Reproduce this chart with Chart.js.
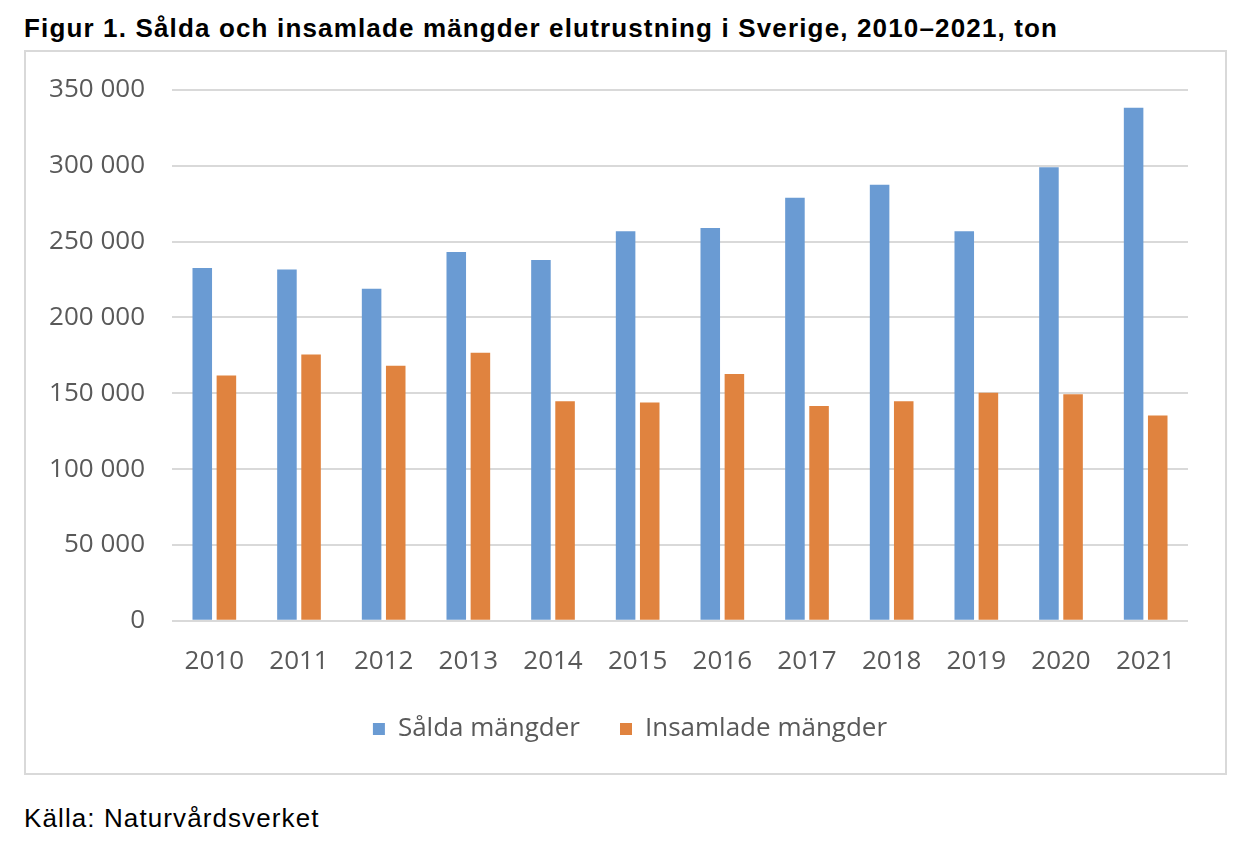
<!DOCTYPE html>
<html>
<head>
<meta charset="utf-8">
<script src="https://cdn.jsdelivr.net/npm/chart.js@4/dist/chart.umd.min.js"></script>
<style>
  body { margin: 0; background: #fff; width: 1252px; height: 856px; position: relative; font-family: "Liberation Sans", Arial, sans-serif; }
  #title { position: absolute; left: 24px; top: 13px; font-size: 26px; letter-spacing: 1.15px; font-weight: bold; color: #000; white-space: nowrap; }
  #box { position: absolute; left: 24px; top: 50px; width: 1203px; height: 725px; border: 2px solid #d9d9d9; box-sizing: border-box; }
  #source { position: absolute; left: 24px; top: 803px; font-size: 26px; letter-spacing: 1.1px; color: #000; white-space: nowrap; }
</style>
</head>
<body>
<div id="title">Figur 1. Sålda och insamlade mängder elutrustning i Sverige, 2010–2021, ton</div>
<div id="box"><canvas id="chart"></canvas></div>
<div id="source">Källa: Naturvårdsverket</div>
<script>
// Data (ton)
const years = ['2010', '2011', '2012', '2013', '2014', '2015', '2016', '2017', '2018', '2019', '2020', '2021'];
const salda = [232600, 231700, 219000, 243200, 237900, 256800, 259000, 279000, 287600, 256800, 299100, 338300];
const insamlade = [161700, 175600, 168100, 176700, 144800, 143900, 162800, 141700, 144800, 150300, 149400, 135300];
const seriesLabels = ['Sålda mängder', 'Insamlade mängder'];

const colors = {
  salda: '#6a9bd3',
  insamlade: '#e0833f',
  grid: '#d9d9d9',
  text: '#595959'
};

const fmt = v => String(v).replace(/\B(?=(\d{3})+(?!\d))/g, ' ');
const labelFont = { family: '"Open Sans", sans-serif', size: 26 };

// Move the legend so it sits centred in the frame, a bit closer to the axis
const legendShift = {
  id: 'legendShift',
  afterLayout(chart) {
    const lg = chart.legend;
    if (!lg) return;
    lg.left += 23; lg.right += 23;
    lg.top -= 18; lg.bottom -= 18;
  }
};

new Chart(document.getElementById('chart').getContext('2d'), {
  type: 'bar',
  data: {
    labels: years,
    datasets: [
      { label: seriesLabels[0], data: salda, backgroundColor: colors.salda },
      { label: seriesLabels[1], data: insamlade, backgroundColor: colors.insamlade }
    ]
  },
  options: {
    responsive: true,
    maintainAspectRatio: false,
    animation: false,
    categoryPercentage: 0.57,
    barPercentage: 0.81,
    layout: { padding: { top: 38, left: 0, right: 37, bottom: 3 } },
    scales: {
      x: {
        grid: { display: false },
        border: { display: false },
        ticks: { color: colors.text, font: labelFont, padding: 17 }
      },
      y: {
        min: 0,
        max: 350000,
        afterFit: scale => {
          scale.width = 146;
          scale.paddingTop = 0;
          scale.paddingBottom = 0;
        },
        grid: { color: colors.grid, lineWidth: 2, drawTicks: false },
        border: { display: false },
        ticks: { stepSize: 50000, color: colors.text, font: labelFont, padding: 27, callback: v => fmt(v) }
      }
    },
    plugins: {
      tooltip: { enabled: false },
      legend: {
        position: 'bottom',
        labels: { color: colors.text, font: labelFont, boxWidth: 12, boxHeight: 12, padding: 40 }
      }
    }
  },
  plugins: [legendShift]
});
</script>
</body>
</html>
